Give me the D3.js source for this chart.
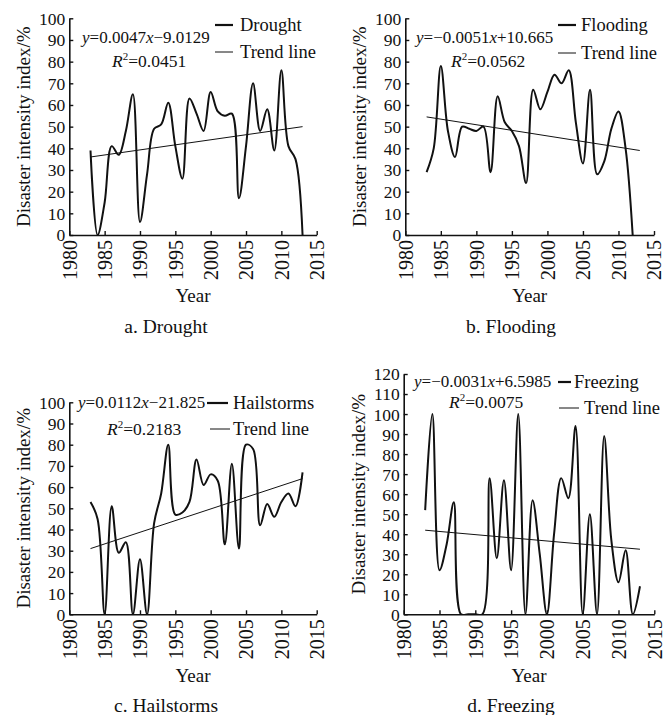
<!DOCTYPE html>
<html>
<head>
<meta charset="utf-8">
<script src="https://cdn.jsdelivr.net/npm/d3@7"></script>
<style>
  body { margin: 0; background: #fff; }
  svg text { font-family: "Liberation Serif", "Times New Roman", serif; fill: #111; }
</style>
</head>
<body>
<script>
// data
var years = [1983,1984,1985,1986,1987,1988,1989,1990,1991,1992,1993,1994,1995,1996,1997,1998,
             1999,2000,2001,2002,2003,2004,2005,2006,2007,2008,2009,2010,2011,2012,2013];
var drought   = [39,0,15,41,37,48,65,6,28,49,51,61,41,26,63,56,48,66,57,55,56,17,41,70,48,58,39,76,41,35,0];
var flooding  = [29,40,78,48,36,50,49,48,50,29,64,52,48,41,24,67,58,66,74,70,76,52,33,67,28,34,49,57,40,0];
var hailstorm = [53,45,0,51,29,34,0,26,0,43,57,80,47,48,53,73,61,66,63,33,71,31,80,78,42,52,46,53,57,51,67];
var freezing  = [52,100,22,35,56,0,0,0,0,68,28,67,22,100,0,57,30,0,40,68,58,94,0,50,0,89,37,16,32,0,14];
var trendYears = [1983, 2013];
var trendDrought  = [36, 50];
var trendFlooding = [54.5, 39];
var trendHail     = [31, 64];
var trendFreezing = [42, 32.5];
var xTicks = [1980,1985,1990,1995,2000,2005,2010,2015];

var panels = [
  {id:"a", name:"Drought", caption:"a. Drought", values:drought, trend:trendDrought, ymax:100,
   x0:69.3, x1:316.7, top:18.3, bot:235, eq:"0.0047x\u22129.0129", r2:"0.0451",
   eqPos:[82,43], r2Pos:[112,67], leg:[215,233,25,240,31], leg2:[215,233,52,240,58], capX:166, capY:333, yearY:302, labX:24},
  {id:"b", name:"Flooding", caption:"b. Flooding", values:flooding, trend:trendFlooding, ymax:100,
   x0:405.3, x1:654, top:18.3, bot:235, eq:"\u22120.0051x+10.665", r2:"0.0562",
   eqPos:[416,43], r2Pos:[451,67], leg:[558,576,25,581,31], leg2:[558,576,53,581,59], capX:511, capY:333, yearY:302, labX:360},
  {id:"c", name:"Hailstorms", caption:"c. Hailstorms", values:hailstorm, trend:trendHail, ymax:100,
   x0:69.3, x1:316.7, top:402.3, bot:614.3, eq:"0.0112x\u221221.825", r2:"0.2183",
   eqPos:[78,408], r2Pos:[107,435], leg:[207,228,403,233,409], leg2:[210,230,429,233,435], capX:166, capY:712, yearY:682, labX:24},
  {id:"d", name:"Freezing", caption:"d. Freezing", values:freezing, trend:trendFreezing, ymax:120,
   x0:403.7, x1:654.3, top:374, bot:614.3, eq:"\u22120.0031x+6.5985", r2:"0.0075",
   eqPos:[414,387], r2Pos:[449,408], leg:[558,571,382,574,388], leg2:[559,579,408,584,414], capX:511, capY:712, yearY:682, labX:359}
];

var svg = d3.select("body").append("svg")
  .attr("width", 672)
  .attr("height", 715);

panels.forEach(function(p) {
  var x = d3.scaleLinear().domain([1980, 2015]).range([p.x0, p.x1]);
  var y = d3.scaleLinear().domain([0, p.ymax]).range([p.bot, p.top]);
  var g = svg.append("g");

  // clip so the spline overshoot below zero is cut at the axis
  svg.append("clipPath").attr("id", "clip" + p.id)
    .append("rect")
    .attr("x", p.x0).attr("y", p.top - 20)
    .attr("width", p.x1 - p.x0).attr("height", p.bot - p.top + 20);

  var yAxis = d3.axisRight(y).tickValues(d3.range(0, p.ymax + 1, 10)).tickSize(4).tickSizeOuter(0);
  var ya = g.append("g").attr("transform", "translate(" + p.x0 + ",0)").call(yAxis);
  ya.selectAll("text").attr("x", -4).attr("dy", "0.34em").style("text-anchor", "end").style("font-size", "17.5px");

  var xAxis = d3.axisTop(x).tickValues(xTicks).tickFormat(d3.format("d")).tickSize(4).tickSizeOuter(0);
  var xa = g.append("g").attr("transform", "translate(0," + p.bot + ")").call(xAxis);
  xa.selectAll("text")
    .attr("transform", "rotate(-90)")
    .attr("x", -5).attr("y", 0).attr("dy", "0.34em")
    .style("text-anchor", "end").style("font-size", "20px");
  g.selectAll(".domain").attr("stroke", "#111").attr("stroke-width", 1.6);
  g.selectAll(".tick line").attr("stroke", "#111").attr("stroke-width", 1.4);

  var line = d3.line()
    .x(function(d) { return x(d[0]); })
    .y(function(d) { return y(d[1]); })
    .curve(d3.curveCatmullRom.alpha(0.5));

  var pts = p.values.map(function(v, i) { return [years[i], v]; });
  g.append("path")
    .datum(pts)
    .attr("clip-path", "url(#clip" + p.id + ")")
    .attr("fill", "none").attr("stroke", "#111").attr("stroke-width", 2)
    .attr("d", line);

  var tl = d3.line().x(function(d) { return x(d[0]); }).y(function(d) { return y(d[1]); });
  g.append("path")
    .datum(trendYears.map(function(t, i) { return [t, p.trend[i]]; }))
    .attr("fill", "none").attr("stroke", "#111").attr("stroke-width", 1)
    .attr("d", tl);

  // equation, y and x in italics
  var xi = p.eq.indexOf("x");
  var eq = g.append("text").attr("x", p.eqPos[0]).attr("y", p.eqPos[1]).style("font-size", "17px");
  eq.append("tspan").style("font-style", "italic").text("y");
  eq.append("tspan").text("=" + p.eq.slice(0, xi));
  eq.append("tspan").style("font-style", "italic").text("x");
  eq.append("tspan").text(p.eq.slice(xi + 1));

  var r = g.append("text").attr("x", p.r2Pos[0]).attr("y", p.r2Pos[1]).style("font-size", "17.5px");
  r.append("tspan").style("font-style", "italic").text("R");
  r.append("tspan").attr("dy", -7).style("font-size", "11px").text("2");
  r.append("tspan").attr("dy", 7).text("=" + p.r2);

  // legend
  g.append("line").attr("x1", p.leg[0]).attr("x2", p.leg[1]).attr("y1", p.leg[2]).attr("y2", p.leg[2])
    .attr("stroke", "#111").attr("stroke-width", 2.2);
  g.append("text").attr("x", p.leg[3]).attr("y", p.leg[4]).style("font-size", "18.5px").text(p.name);
  g.append("line").attr("x1", p.leg2[0]).attr("x2", p.leg2[1]).attr("y1", p.leg2[2]).attr("y2", p.leg2[2])
    .attr("stroke", "#111").attr("stroke-width", 1);
  g.append("text").attr("x", p.leg2[3]).attr("y", p.leg2[4]).style("font-size", "18.5px").text("Trend line");

  // axis titles and caption
  g.append("text")
    .attr("transform", "translate(" + p.labX + "," + ((p.top + p.bot) / 2) + ") rotate(-90)")
    .attr("dy", "0.34em").style("text-anchor", "middle").style("font-size", "19px")
    .text("Disaster intensity index/%");
  g.append("text").attr("x", (p.x0 + p.x1) / 2).attr("y", p.yearY)
    .style("text-anchor", "middle").style("font-size", "19px").text("Year");
  g.append("text").attr("x", p.capX).attr("y", p.capY)
    .style("text-anchor", "middle").style("font-size", "19.5px").text(p.caption);
});
</script>
</body>
</html>
